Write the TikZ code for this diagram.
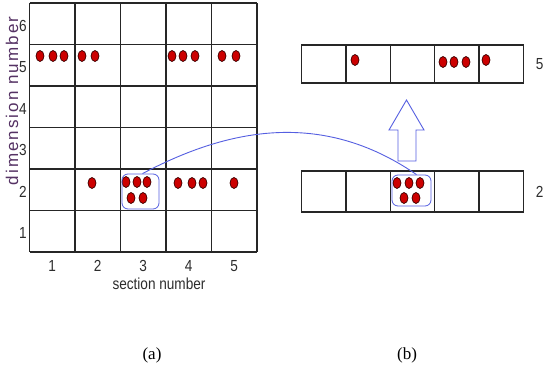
\documentclass[tikz,border=0pt]{standalone}
\usepackage{fontspec}
\setmainfont{Liberation Serif}
\newfontfamily\labelfont[FakeStretch=0.85]{Liberation Sans}
\newfontfamily\axisfont[LetterSpace=12]{Liberation Sans}
\usetikzlibrary{positioning}
\definecolor{dotred}{RGB}{204,0,0}
\definecolor{dotrim}{RGB}{60,0,0}
\definecolor{selblue}{RGB}{85,95,225}
\definecolor{labelgray}{RGB}{45,45,45}
\definecolor{axispurple}{RGB}{85,50,100}

\begin{document}
\begin{tikzpicture}[x=1pt, y=-1pt,
  cellline/.style={line width=1.4pt, draw=black!85},
  strip/.style={cellline, minimum width=222pt, minimum height=38pt, inner sep=0pt},
  dot/.style={fill=dotred, draw=dotrim, line width=0.7pt},
  sel/.style={draw=selblue, line width=0.8pt, rounded corners=6pt, inner sep=0pt},
  link/.style={draw=selblue, line width=0.9pt},
  uparrow/.style={draw=selblue, fill=white, line width=0.9pt, line join=miter},
  numlabel/.style={inner sep=0pt, text=labelgray, font=\labelfont\fontsize{16}{16}\selectfont},
  axislabel/.style={inner sep=0pt, text=labelgray, font=\labelfont\fontsize{16}{16}\selectfont},
  caption/.style={inner sep=0pt, font=\fontsize{17}{17}\selectfont}
]
  \path[fill=white, use as bounding box] (0,0) rectangle (544,378);

  % (a) section x dimension grid
  \foreach \c in {0,...,5}
    \draw[cellline] ({29.5+45.5*\c},3) -- ({29.5+45.5*\c},252);
  \foreach \r in {0,...,6}
    \draw[cellline] (29.5,{3+41.5*\r}) -- (257,{3+41.5*\r});

  \foreach \r in {1,...,6}
    \node[numlabel] (row\r) at (23,{252-41.5*(\r-0.5)+2}) {\r};
  \foreach \c in {1,...,5}
    \node[numlabel] (col\c) at ({29.5+45.5*(\c-0.5)},266) {\c};
  \node[axislabel] (xlab) at (159,284) {section number};
  \node[axislabel, rotate=90, text=axispurple,
        font=\axisfont\fontsize{17}{17}\selectfont] (ylab) at (12,101) {dimension number};

  % dots in row 5 and row 2
  \foreach \x in {40,53,64,82,95,172,183,195,222,236}
    \filldraw[dot] (\x,56) ellipse (4 and 5.5);
  \foreach \x in {92,178,192,203,234}
    \filldraw[dot] (\x,183) ellipse (4 and 5.5);
  \foreach \x in {126,137,147}
    \filldraw[dot] (\x,182) ellipse (4 and 5.5);
  \foreach \x in {131,143}
    \filldraw[dot] (\x,198) ellipse (4 and 5.5);
  \node[sel, minimum width=37pt, minimum height=35pt] (selA) at (140.5,191.5) {};

  % (b) rows 5 and 2 as strips
  \node[strip] (stripTop) at (412.5,64) {};
  \node[strip, minimum height=41pt] (stripBot) at (412.5,191.5) {};
  \foreach \i in {1,...,4} {
    \draw[cellline] ({301.5+44.4*\i},45) -- ({301.5+44.4*\i},83);
    \draw[cellline] ({301.5+44.4*\i},171) -- ({301.5+44.4*\i},212);
  }
  \node[numlabel, right=11.5pt of stripTop] (topnum) {5};
  \node[numlabel, right=11.5pt of stripBot] (botnum) {2};

  \filldraw[dot] (355,60) ellipse (4 and 5.5);
  \foreach \x in {443,454,466}
    \filldraw[dot] (\x,62) ellipse (4 and 5.5);
  \filldraw[dot] (486,60) ellipse (4 and 5.5);
  \foreach \x in {397,409,420}
    \filldraw[dot] (\x,183) ellipse (4 and 5.5);
  \foreach \x in {404,416}
    \filldraw[dot] (\x,198) ellipse (4 and 5.5);
  \node[sel, minimum width=39pt, minimum height=31pt] (selB) at (411.5,190.5) {};

  % hollow arrow from row 2 up to row 5
  \draw[uparrow] (398,161) -- (398,130) -- (389,130) -- (406.5,100)
    -- (424,130) -- (416,130) -- (416,161) -- cycle;

  \draw[link] ([xshift=2pt]selA.north) .. controls (225,130) and (320,108)
    .. ([xshift=5pt]selB.north);

  \node[caption] (capA) at (152,355) {(a)};
  \node[caption] (capB) at (407,355) {(b)};
\end{tikzpicture}
\end{document}
